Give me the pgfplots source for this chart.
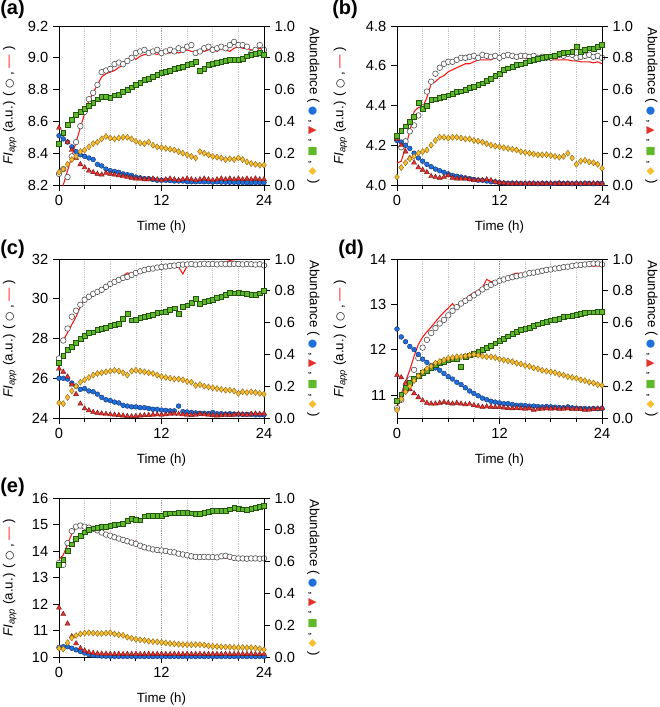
\documentclass[border=0pt]{standalone}
\usepackage{pgfplots}
\pgfplotsset{compat=1.18}
\usepackage{pgfplotstable}
\usepackage{fontspec}
\setmainfont{Liberation Sans}
\newfontfamily\sym{DejaVu Sans}

\definecolor{cblue}{RGB}{30,112,220}
\definecolor{cblueD}{RGB}{15,45,110}
\definecolor{cred}{RGB}{228,50,45}
\definecolor{credD}{RGB}{110,20,20}
\definecolor{cgreen}{RGB}{95,185,40}
\definecolor{cgreenD}{RGB}{35,85,15}
\definecolor{cyel}{RGB}{247,190,50}
\definecolor{cyelD}{RGB}{140,100,15}
\definecolor{cgray}{RGB}{80,80,80}
\definecolor{fitred}{RGB}{255,20,20}

% t, FI (circles), fit (red line), blue, red, green, yellow abundances
\pgfplotstableread{
t fi fit b r g y
0 8.27 8.11 0.31 0.36 0.26 0.08
0.5 8.30 8.20 0.29 0.32 0.33 0.10
1 8.25 8.29 0.27 0.27 0.38 0.13
1.5 8.38 8.38 0.24 0.22 0.41 0.16
2 8.47 8.47 0.21 0.17 0.44 0.18
2.5 8.57 8.56 0.19 0.13 0.46 0.21
3 8.66 8.65 0.18 0.11 0.48 0.22
3.5 8.74 8.73 0.17 0.09 0.50 0.24
4 8.78 8.78 0.16 0.08 0.52 0.26
4.5 8.83 8.83 0.13 0.07 0.54 0.27
5 8.91 8.88 0.12 0.065 0.555 0.29
5.5 8.92 8.90 0.10 0.075 0.555 0.305
6 8.93 8.91 0.09 0.07 0.55 0.295
6.5 8.96 8.92 0.085 0.065 0.565 0.29
7 8.97 8.94 0.08 0.06 0.57 0.295
7.5 8.96 8.95 0.07 0.055 0.585 0.30
8 8.98 8.98 0.065 0.05 0.60 0.30
8.5 9.00 9.01 0.06 0.045 0.615 0.29
9 9.03 8.99 0.05 0.04 0.63 0.275
9.5 9.04 9.01 0.045 0.04 0.645 0.265
10 9.05 9.02 0.04 0.035 0.66 0.26
10.5 9.03 9.02 0.04 0.035 0.67 0.27
11 9.04 9.03 0.035 0.04 0.68 0.25
11.5 9.05 9.02 0.03 0.035 0.695 0.24
12 9.03 9.04 0.03 0.03 0.705 0.235
12.5 9.04 9.03 0.03 0.035 0.715 0.23
13 9.05 9.03 0.028 0.04 0.72 0.225
13.5 9.04 9.04 0.025 0.035 0.73 0.22
14 9.06 9.03 0.025 0.03 0.74 0.21
14.5 9.05 9.04 0.025 0.035 0.745 0.20
15 9.07 9.05 0.022 0.04 0.755 0.19
15.5 9.08 9.04 0.02 0.035 0.765 0.18
16 9.03 9.04 0.02 0.03 0.775 0.17
16.5 9.04 9.05 0.022 0.035 0.72 0.21
17 9.06 9.04 0.02 0.04 0.73 0.20
17.5 9.07 9.05 0.02 0.035 0.755 0.19
18 9.05 9.05 0.018 0.03 0.765 0.18
18.5 9.06 9.04 0.02 0.035 0.77 0.175
19 9.07 9.06 0.018 0.04 0.775 0.17
19.5 9.06 9.05 0.018 0.035 0.78 0.16
20 9.08 9.04 0.017 0.04 0.79 0.165
20.5 9.10 9.06 0.017 0.035 0.79 0.16
21 9.08 9.07 0.016 0.04 0.79 0.17
21.5 9.08 9.06 0.016 0.035 0.795 0.16
22 9.07 9.06 0.015 0.04 0.81 0.145
22.5 9.03 9.05 0.015 0.035 0.82 0.135
23 9.05 9.05 0.015 0.04 0.825 0.13
23.5 9.08 9.06 0.015 0.035 0.83 0.125
24 9.05 9.05 0.015 0.035 0.82 0.125
}\dataA

\pgfplotstableread{
t fi fit b r g y
0 4.23 4.11 0.28 0.29 0.31 0.05
0.5 4.19 4.12 0.27 0.25 0.34 0.11
1 4.22 4.19 0.25 0.21 0.37 0.14
1.5 4.27 4.27 0.23 0.17 0.40 0.165
2 4.30 4.37 0.20 0.14 0.43 0.18
2.5 4.35 4.39 0.17 0.11 0.52 0.20
3 4.39 4.39 0.15 0.095 0.48 0.21
3.5 4.47 4.44 0.13 0.08 0.50 0.22
4 4.52 4.51 0.115 0.055 0.535 0.25
4.5 4.56 4.52 0.10 0.05 0.54 0.28
5 4.59 4.54 0.09 0.045 0.55 0.30
5.5 4.61 4.55 0.08 0.05 0.555 0.30
6 4.62 4.57 0.07 0.06 0.565 0.295
6.5 4.62 4.58 0.06 0.045 0.575 0.30
7 4.63 4.59 0.055 0.04 0.585 0.30
7.5 4.64 4.60 0.05 0.04 0.59 0.295
8 4.64 4.61 0.045 0.04 0.60 0.29
8.5 4.645 4.61 0.04 0.035 0.61 0.29
9 4.65 4.62 0.035 0.03 0.62 0.28
9.5 4.64 4.63 0.03 0.03 0.63 0.275
10 4.655 4.63 0.03 0.03 0.64 0.27
10.5 4.65 4.63 0.025 0.035 0.655 0.26
11 4.645 4.63 0.02 0.03 0.67 0.25
11.5 4.65 4.64 0.02 0.02 0.685 0.245
12 4.64 4.64 0.015 0.015 0.70 0.24
12.5 4.65 4.64 0.012 0.012 0.725 0.235
13 4.655 4.65 0.01 0.01 0.735 0.23
13.5 4.65 4.64 0.012 0.008 0.745 0.225
14 4.645 4.645 0.01 0.01 0.755 0.22
14.5 4.65 4.64 0.01 0.008 0.76 0.21
15 4.65 4.64 0.008 0.01 0.77 0.205
15.5 4.645 4.63 0.01 0.008 0.78 0.20
16 4.65 4.64 0.01 0.01 0.79 0.195
16.5 4.64 4.635 0.008 0.008 0.795 0.19
17 4.645 4.63 0.01 0.01 0.80 0.19
17.5 4.64 4.635 0.01 0.008 0.805 0.19
18 4.64 4.63 0.008 0.01 0.81 0.185
18.5 4.65 4.63 0.01 0.008 0.815 0.18
19 4.655 4.63 0.012 0.01 0.825 0.175
19.5 4.65 4.63 0.01 0.008 0.83 0.18
20 4.66 4.63 0.01 0.01 0.835 0.20
20.5 4.655 4.625 0.008 0.008 0.84 0.17
21 4.64 4.625 0.01 0.01 0.87 0.13
21.5 4.645 4.62 0.008 0.008 0.84 0.15
22 4.65 4.62 0.01 0.01 0.85 0.155
22.5 4.655 4.62 0.01 0.008 0.86 0.145
23 4.645 4.615 0.008 0.01 0.855 0.14
23.5 4.65 4.62 0.01 0.008 0.87 0.13
24 4.64 4.61 0.01 0.008 0.88 0.105
}\dataB

\pgfplotstableread{
t fi fit b r g y
0 27.0 nan 0.25 0.31 0.35 0.095
0.5 27.9 27.9 0.25 0.29 0.39 0.09
1 28.5 28.3 0.245 0.26 0.43 0.13
1.5 29.1 28.7 0.22 0.21 0.45 0.17
2 29.4 29.1 0.20 0.15 0.475 0.20
2.5 29.7 29.6 0.18 0.09 0.50 0.225
3 29.95 29.95 0.185 0.06 0.52 0.24
3.5 30.1 30.0 0.17 0.048 0.535 0.255
4 30.25 30.2 0.165 0.038 0.54 0.27
4.5 30.35 30.35 0.15 0.032 0.555 0.28
5 30.45 30.5 0.13 0.028 0.56 0.285
5.5 30.6 30.65 0.115 0.025 0.57 0.29
6 30.75 30.8 0.11 0.022 0.58 0.295
6.5 30.85 30.85 0.10 0.02 0.585 0.30
7 30.95 31.0 0.095 0.018 0.595 0.295
7.5 31.05 31.15 0.08 0.015 0.625 0.285
8 31.1 31.3 0.075 0.012 0.655 0.27
8.5 31.2 31.25 0.07 0.01 0.615 0.295
9 31.3 31.3 0.07 0.012 0.62 0.30
9.5 31.38 31.35 0.065 0.015 0.63 0.295
10 31.45 31.4 0.065 0.017 0.635 0.29
10.5 31.5 31.45 0.06 0.018 0.645 0.285
11 31.52 31.5 0.055 0.02 0.65 0.28
11.5 31.57 31.55 0.055 0.022 0.66 0.27
12 31.6 31.55 0.05 0.02 0.665 0.26
12.5 31.62 31.58 0.048 0.022 0.67 0.255
13 31.65 31.6 0.045 0.025 0.68 0.25
13.5 31.67 31.57 0.045 0.027 0.69 0.245
14 31.7 31.6 0.075 0.025 0.655 0.245
14.5 31.72 31.25 0.04 0.022 0.70 0.24
15 31.73 31.65 0.038 0.02 0.71 0.23
15.5 31.75 31.7 0.035 0.018 0.725 0.225
16 31.72 31.72 0.032 0.02 0.75 0.205
16.5 31.74 31.75 0.03 0.025 0.72 0.21
17 31.76 31.78 0.03 0.022 0.73 0.20
17.5 31.74 31.8 0.028 0.02 0.74 0.195
18 31.75 31.82 0.035 0.018 0.745 0.19
18.5 31.73 31.8 0.027 0.015 0.755 0.185
19 31.76 31.83 0.027 0.017 0.765 0.18
19.5 31.75 31.85 0.025 0.02 0.775 0.175
20 31.74 31.92 0.027 0.018 0.79 0.175
20.5 31.76 31.88 0.025 0.02 0.785 0.17
21 31.75 31.85 0.024 0.025 0.79 0.155
21.5 31.73 31.82 0.022 0.022 0.785 0.165
22 31.75 31.8 0.023 0.02 0.78 0.16
22.5 31.74 31.78 0.022 0.025 0.775 0.165
23 31.72 31.76 0.02 0.027 0.775 0.16
23.5 31.74 31.74 0.02 0.025 0.785 0.155
24 31.68 nan 0.02 0.027 0.80 0.15
}\dataC

\pgfplotstableread{
t fi fit b r g y
0 10.72 10.72 0.56 0.27 0.11 0.05
0.5 10.90 11.03 0.51 0.255 0.15 0.12
1 11.10 11.30 0.48 0.22 0.19 0.165
1.5 11.35 11.56 0.45 0.18 0.22 0.20
2 11.56 11.86 0.43 0.155 0.245 0.235
2.5 11.82 12.12 0.40 0.13 0.265 0.265
3 12.05 12.28 0.37 0.11 0.285 0.29
3.5 12.22 12.40 0.35 0.095 0.30 0.31
4 12.37 12.50 0.33 0.09 0.315 0.325
4.5 12.48 12.62 0.315 0.09 0.335 0.345
5 12.58 12.73 0.30 0.095 0.345 0.355
5.5 12.66 12.83 0.28 0.10 0.355 0.365
6 12.76 12.92 0.26 0.095 0.365 0.375
6.5 12.86 13.02 0.245 0.09 0.37 0.38
7 12.94 12.90 0.225 0.095 0.375 0.385
7.5 13.02 13.05 0.21 0.09 0.325 0.385
8 13.08 13.12 0.19 0.085 0.385 0.39
8.5 13.14 13.20 0.17 0.088 0.395 0.395
9 13.20 13.26 0.155 0.08 0.405 0.40
9.5 13.26 13.31 0.14 0.075 0.415 0.395
10 13.33 13.37 0.125 0.07 0.43 0.39
10.5 13.38 13.55 0.115 0.072 0.44 0.385
11 13.43 13.50 0.105 0.07 0.455 0.385
11.5 13.48 13.52 0.10 0.068 0.47 0.38
12 13.52 13.53 0.095 0.07 0.485 0.37
12.5 13.55 13.55 0.09 0.065 0.50 0.365
13 13.58 13.60 0.09 0.062 0.515 0.36
13.5 13.60 13.66 0.085 0.06 0.53 0.355
14 13.62 13.69 0.08 0.062 0.545 0.345
14.5 13.64 13.68 0.08 0.06 0.555 0.34
15 13.66 13.69 0.078 0.058 0.56 0.33
15.5 13.69 13.70 0.075 0.06 0.57 0.325
16 13.70 13.72 0.075 0.05 0.58 0.315
16.5 13.72 13.73 0.072 0.055 0.59 0.31
17 13.74 13.75 0.07 0.058 0.60 0.30
17.5 13.76 13.76 0.072 0.06 0.605 0.295
18 13.77 13.78 0.07 0.058 0.615 0.29
18.5 13.79 13.79 0.068 0.06 0.62 0.285
19 13.80 13.80 0.066 0.055 0.625 0.275
19.5 13.82 13.82 0.065 0.058 0.635 0.27
20 13.83 13.84 0.07 0.06 0.64 0.26
20.5 13.85 13.86 0.064 0.055 0.645 0.255
21 13.86 13.88 0.062 0.058 0.65 0.25
21.5 13.87 13.86 0.06 0.055 0.655 0.24
22 13.88 13.87 0.06 0.05 0.66 0.235
22.5 13.89 13.85 0.058 0.052 0.665 0.225
23 13.90 13.84 0.06 0.055 0.665 0.22
23.5 13.90 13.85 0.058 0.058 0.67 0.21
24 13.88 13.84 0.06 0.06 0.67 0.205
}\dataD

\pgfplotstableread{
t fi fit b r g y
0 13.55 13.68 0.06 0.31 0.58 0.055
0.5 13.48 13.85 0.065 0.27 0.61 0.05
1 14.30 14.25 0.065 0.21 0.67 0.09
1.5 14.75 14.65 0.055 0.13 0.71 0.12
2 14.92 14.90 0.045 0.085 0.745 0.135
2.5 14.96 14.90 0.035 0.055 0.765 0.145
3 14.92 14.85 0.025 0.04 0.785 0.15
3.5 14.88 14.80 0.015 0.03 0.80 0.153
4 14.84 14.77 0.01 0.025 0.81 0.15
4.5 14.78 14.72 0.008 0.022 0.815 0.148
5 14.70 14.65 0.006 0.02 0.82 0.148
5.5 14.62 14.58 0.005 0.02 0.82 0.15
6 14.58 14.50 0.005 0.019 0.825 0.153
6.5 14.52 14.52 0.004 0.018 0.83 0.145
7 14.47 14.47 0.004 0.019 0.835 0.14
7.5 14.42 14.42 0.004 0.018 0.84 0.136
8 14.37 14.35 0.004 0.019 0.855 0.125
8.5 14.32 14.22 0.004 0.018 0.87 0.118
9 14.27 14.38 0.003 0.019 0.865 0.112
9.5 14.20 14.15 0.004 0.018 0.86 0.108
10 14.14 14.10 0.003 0.018 0.885 0.105
10.5 14.10 14.06 0.004 0.019 0.89 0.10
11 14.06 14.02 0.003 0.018 0.89 0.097
11.5 14.04 13.98 0.004 0.018 0.888 0.095
12 14.02 13.96 0.003 0.019 0.89 0.092
12.5 14.00 13.95 0.004 0.018 0.90 0.088
13 13.97 13.92 0.003 0.018 0.905 0.085
13.5 13.95 13.90 0.004 0.019 0.905 0.083
14 13.90 13.87 0.003 0.018 0.908 0.08
14.5 13.87 13.85 0.004 0.018 0.91 0.078
15 13.84 13.84 0.003 0.019 0.91 0.078
15.5 13.80 13.80 0.004 0.018 0.905 0.077
16 13.78 13.78 0.003 0.018 0.90 0.078
16.5 13.77 13.77 0.004 0.019 0.90 0.078
17 13.78 13.76 0.003 0.018 0.91 0.075
17.5 13.77 13.78 0.004 0.018 0.915 0.07
18 13.77 13.77 0.003 0.019 0.918 0.067
18.5 13.76 13.78 0.004 0.018 0.92 0.066
19 13.80 13.75 0.003 0.018 0.92 0.064
19.5 13.82 13.73 0.004 0.019 0.922 0.063
20 13.78 13.72 0.003 0.018 0.93 0.062
20.5 13.74 13.72 0.004 0.018 0.94 0.06
21 13.72 13.74 0.003 0.019 0.935 0.059
21.5 13.72 13.77 0.004 0.018 0.93 0.06
22 13.71 13.70 0.003 0.018 0.928 0.058
22.5 13.72 13.69 0.004 0.019 0.935 0.059
23 13.72 13.68 0.003 0.018 0.94 0.055
23.5 13.71 13.66 0.004 0.018 0.945 0.052
24 13.72 13.65 0.003 0.019 0.954 0.046
}\dataE

\pgfplotsset{
  /pgf/number format/assume math mode=true,
  panel/.style={
    scale only axis, width=153.75pt, height=119.25pt,
    xmin=0, xmax=24,
    tick label style={font=\fontsize{11}{13}\selectfont},
    label style={font=\fontsize{11}{13}\selectfont},
    axis line style={line width=0.6pt},
    tick style={line width=0.6pt, black},
    tick align=outside,
    major tick length=4.5pt, minor tick length=3pt,
  },
  leftax/.style={panel,
    xtick={0,12,24}, minor xtick={3,6,9,15,18,21},
    xtick pos=left, ytick pos=left,
    xmajorgrids, xminorgrids,
    major grid style={densely dotted, gray!85, line width=0.5pt},
    minor grid style={densely dotted, gray!45, line width=0.5pt},
    xlabel={Time (h)},
    every axis x label/.style={at={(axis description cs:0.5,-0.265)}, anchor=center},
    ylabel={\textit{FI}\textsubscript{\textit{app}} (a.u.) ( {\sym\footnotesize ○} , \textcolor{fitred}{—} )},
    every axis y label/.style={at={(axis description cs:#1,0.5)}, rotate=90, anchor=center},
  },
  rightax/.style={panel,
    axis x line=none, axis y line*=right,
    ymin=0, ymax=1, ytick={0,0.2,0.4,0.6,0.8,1},
    yticklabel style={/pgf/number format/.cd, fixed, fixed zerofill, precision=1},
    ylabel={Abundance ( \textcolor{cblue}{\sym\footnotesize ●} , \textcolor{cred}{\sym\footnotesize ▲} , \textcolor{cgreen}{\sym\footnotesize ■} , \textcolor{cyel}{\sym\footnotesize ◆} )},
    every axis y label/.style={at={(axis description cs:1.24,0.5)}, rotate=-90, anchor=center},
  },
  onedec/.style={yticklabel style={/pgf/number format/.cd, fixed, fixed zerofill, precision=1}},
  fipts/.style={only marks, mark=*, mark size=2.1pt, mark options={fill=white, draw=cgray, line width=0.45pt}},
  fitln/.style={fitred, line width=0.8pt, no marks},
  bpts/.style={only marks, mark=*, mark size=1.8pt, mark options={fill=cblue, draw=cblueD, line width=0.3pt}},
  rpts/.style={only marks, mark=triangle*, mark size=2.2pt, mark options={fill=cred, draw=credD, line width=0.3pt}},
  gpts/.style={only marks, mark=square*, mark size=1.8pt, mark options={fill=cgreen, draw=cgreenD, line width=0.3pt}},
  ypts/.style={only marks, mark=diamond*, mark size=2.3pt, mark options={fill=cyel, draw=cyelD, line width=0.3pt}},
}

\begin{document}
\begin{tikzpicture}
\useasboundingbox (0pt,0pt) rectangle (495pt,-530.25pt);

% ---- (a)
\begin{axis}[leftax=-0.24, onedec, at={(44.25pt,-138.75pt)}, anchor=south west,
  ymin=8.2, ymax=9.2, ytick={8.2,8.4,8.6,8.8,9.0,9.2}]
  \addplot[fipts] table[x=t, y=fi] {\dataA};
  \addplot[fitln] table[x=t, y=fit] {\dataA};
\end{axis}
\begin{axis}[rightax, at={(44.25pt,-138.75pt)}, anchor=south west]
  \addplot[bpts] table[x=t, y=b] {\dataA};
  \addplot[rpts] table[x=t, y=r] {\dataA};
  \addplot[gpts] table[x=t, y=g] {\dataA};
  \addplot[ypts] table[x=t, y=y] {\dataA};
\end{axis}

% ---- (b)
\begin{axis}[leftax=-0.275, onedec, at={(297.75pt,-138.75pt)}, anchor=south west,
  ymin=4.0, ymax=4.8, ytick={4.0,4.2,4.4,4.6,4.8}]
  \addplot[fipts] table[x=t, y=fi] {\dataB};
  \addplot[fitln] table[x=t, y=fit] {\dataB};
\end{axis}
\begin{axis}[rightax, at={(297.75pt,-138.75pt)}, anchor=south west]
  \addplot[bpts] table[x=t, y=b] {\dataB};
  \addplot[rpts] table[x=t, y=r] {\dataB};
  \addplot[gpts] table[x=t, y=g] {\dataB};
  \addplot[ypts] table[x=t, y=y] {\dataB};
\end{axis}

% ---- (c)
\begin{axis}[leftax=-0.24, at={(44.25pt,-313.5pt)}, anchor=south west,
  ymin=24, ymax=32, ytick={24,26,28,30,32}]
  \addplot[fipts] table[x=t, y=fi] {\dataC};
  \addplot[fitln] table[x=t, y=fit] {\dataC};
\end{axis}
\begin{axis}[rightax, at={(44.25pt,-313.5pt)}, anchor=south west]
  \addplot[bpts] table[x=t, y=b] {\dataC};
  \addplot[rpts] table[x=t, y=r] {\dataC};
  \addplot[gpts] table[x=t, y=g] {\dataC};
  \addplot[ypts] table[x=t, y=y] {\dataC};
\end{axis}

% ---- (d)
\begin{axis}[leftax=-0.275, at={(297.75pt,-313.5pt)}, anchor=south west,
  ymin=10.5, ymax=14, ytick={11,12,13,14}]
  \addplot[fipts] table[x=t, y=fi] {\dataD};
  \addplot[fitln] table[x=t, y=fit] {\dataD};
\end{axis}
\begin{axis}[rightax, at={(297.75pt,-313.5pt)}, anchor=south west]
  \addplot[bpts] table[x=t, y=b] {\dataD};
  \addplot[rpts] table[x=t, y=r] {\dataD};
  \addplot[gpts] table[x=t, y=g] {\dataD};
  \addplot[ypts] table[x=t, y=y] {\dataD};
\end{axis}

% ---- (e)
\begin{axis}[leftax=-0.24, at={(44.25pt,-492.75pt)}, anchor=south west,
  ymin=10, ymax=16, ytick={10,11,12,13,14,15,16}]
  \addplot[fipts] table[x=t, y=fi] {\dataE};
  \addplot[fitln] table[x=t, y=fit] {\dataE};
\end{axis}
\begin{axis}[rightax, at={(44.25pt,-492.75pt)}, anchor=south west]
  \addplot[bpts] table[x=t, y=b] {\dataE};
  \addplot[rpts] table[x=t, y=r] {\dataE};
  \addplot[gpts] table[x=t, y=g] {\dataE};
  \addplot[ypts] table[x=t, y=y] {\dataE};
\end{axis}

% panel letters
\begin{scope}[every node/.style={anchor=north west, inner sep=0pt, font=\bfseries\fontsize{15}{17}\selectfont}]
  \node at (0pt,0pt) {(a)};
  \node at (249pt,0pt) {(b)};
  \node at (0pt,-180pt) {(c)};
  \node at (253.5pt,-180pt) {(d)};
  \node at (0pt,-358.5pt) {(e)};
\end{scope}
\end{tikzpicture}
\end{document}
